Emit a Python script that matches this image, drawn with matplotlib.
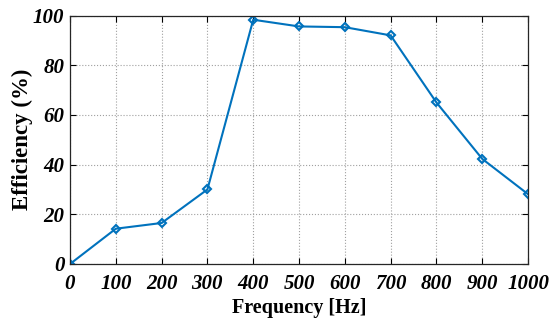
import matplotlib
matplotlib.use("Agg")
import matplotlib.pyplot as plt

# frequency sweep and measured efficiency
freq = [0, 100, 200, 300, 400, 500, 600, 700, 800, 900, 1000]
efficiency = [0, 14.2, 16.5, 30.0, 98.3, 95.6, 95.3, 92.0, 65.0, 42.3, 28.1]
xticks = [0, 100, 200, 300, 400, 500, 600, 700, 800, 900, 1000]
yticks = [0, 20, 40, 60, 80, 100]

plt.rcParams['font.family'] = ['Liberation Serif', 'DejaVu Serif']

fig = plt.figure(figsize=(5.57, 3.21), dpi=100)
ax = fig.add_axes([0.1257, 0.1776, 0.8223, 0.7741])

ax.plot(freq, efficiency, color='#0072BD', linewidth=1.5, marker='D',
        markersize=4.5, markerfacecolor='none', markeredgewidth=1.5)

ax.set_xlim(0, 1000)
ax.set_ylim(0, 100)
ax.set_xticks(xticks)
ax.set_yticks(yticks)
ax.set_xticklabels([str(t) for t in xticks], fontsize=15, fontweight='bold', style='italic')
ax.set_yticklabels([str(t) for t in yticks], fontsize=15, fontweight='bold', style='italic')
ax.tick_params(axis='x', pad=7)
ax.tick_params(axis='y', pad=4)
ax.tick_params(direction='in', top=True, right=True, length=4, width=0.8)

ax.grid(True, linestyle=':', color='#a0a0a0', linewidth=0.8)
for s in ax.spines.values():
    s.set_linewidth(0.9)
    s.set_color('#262626')

ax.set_xlabel('Frequency [Hz]', fontsize=14.5, fontweight='bold', labelpad=3)
ax.set_ylabel('Efficiency (%)', fontsize=16.5, fontweight='bold', labelpad=0)

fig.savefig('out.png', dpi=100)
